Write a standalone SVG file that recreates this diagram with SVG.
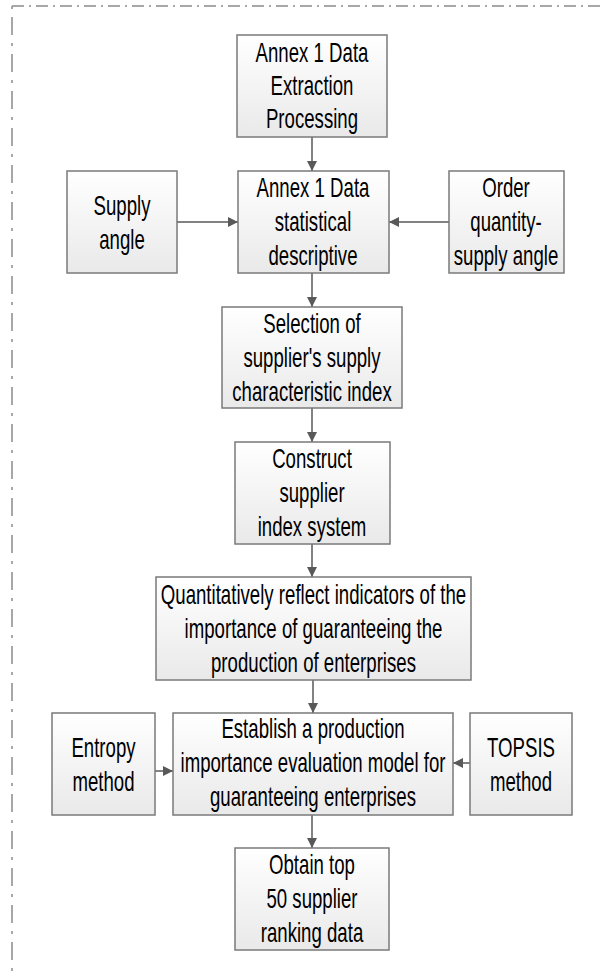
<svg xmlns="http://www.w3.org/2000/svg" width="601" height="975" viewBox="0 0 601 975">
<defs>
<linearGradient id="boxfill" x1="0" y1="0" x2="0" y2="1">
<stop offset="0" stop-color="#ffffff"/>
<stop offset="1" stop-color="#e9e9e9"/>
</linearGradient>
<marker id="arrow" markerUnits="userSpaceOnUse" markerWidth="11" markerHeight="10" refX="10" refY="5" orient="auto">
<path d="M0,0 L10,5 L0,10 z" fill="#595959"/>
</marker>
</defs>
<style>
.box{fill:url(#boxfill);stroke:#7a7a7a;stroke-width:1.5}
.lbl{font-family:"Liberation Sans",Arial,sans-serif;font-size:27px;fill:#000;text-anchor:middle}
.conn{stroke:#595959;stroke-width:1.5;fill:none;marker-end:url(#arrow)}
.border{stroke:#8a8a8a;stroke-width:1.5;fill:none}
</style>
<rect width="601" height="975" fill="#ffffff"/>
<g id="frame">
<path class="border" d="M12,6 H601" stroke-dasharray="12 5 2 5"/>
<path class="border" d="M12,6 V975" stroke-dasharray="3 8 18 8"/>
</g>
<g id="connectors">
<path class="conn" d="M312,137 V171"/>
<path class="conn" d="M177,222 H238"/>
<path class="conn" d="M449,222 H389"/>
<path class="conn" d="M312,273 V307"/>
<path class="conn" d="M312,408 V442"/>
<path class="conn" d="M312,544 V577"/>
<path class="conn" d="M313,680 V713"/>
<path class="conn" d="M155,771 H173"/>
<path class="conn" d="M470,763 H453"/>
<path class="conn" d="M312,815 V848"/>
</g>
<g id="n1">
<rect class="box" x="237" y="35" width="150" height="102"/>
<text class="lbl" transform="translate(312 0) scale(0.69 1)"><tspan x="0" y="62">Annex 1 Data</tspan><tspan x="0" y="95">Extraction</tspan><tspan x="0" y="128">Processing</tspan></text>
</g>
<g id="n2">
<rect class="box" x="238" y="171" width="151" height="102"/>
<text class="lbl" transform="translate(313 0) scale(0.69 1)"><tspan x="0" y="197">Annex 1 Data</tspan><tspan x="0" y="231">statistical</tspan><tspan x="0" y="265">descriptive</tspan></text>
</g>
<g id="n_supply">
<rect class="box" x="67" y="171" width="110" height="102"/>
<text class="lbl" transform="translate(122 0) scale(0.69 1)"><tspan x="0" y="215">Supply</tspan><tspan x="0" y="249">angle</tspan></text>
</g>
<g id="n_order">
<rect class="box" x="449" y="171" width="115" height="102"/>
<text class="lbl" transform="translate(506 0) scale(0.69 1)"><tspan x="0" y="197">Order</tspan><tspan x="0" y="231">quantity-</tspan><tspan x="0" y="265">supply angle</tspan></text>
</g>
<g id="n3">
<rect class="box" x="222" y="307" width="180" height="101"/>
<text class="lbl" transform="translate(312 0) scale(0.69 1)"><tspan x="0" y="333">Selection of</tspan><tspan x="0" y="367">supplier's supply</tspan><tspan x="0" y="401">characteristic index</tspan></text>
</g>
<g id="n4">
<rect class="box" x="235" y="442" width="155" height="102"/>
<text class="lbl" transform="translate(312 0) scale(0.69 1)"><tspan x="0" y="468">Construct</tspan><tspan x="0" y="502">supplier</tspan><tspan x="0" y="536">index system</tspan></text>
</g>
<g id="n5">
<rect class="box" x="156" y="577" width="315" height="103"/>
<text class="lbl" transform="translate(313.5 0) scale(0.69 1)"><tspan x="0" y="604">Quantitatively reflect indicators of the</tspan><tspan x="0" y="638">importance of guaranteeing the</tspan><tspan x="0" y="672">production of enterprises</tspan></text>
</g>
<g id="n_entropy">
<rect class="box" x="52" y="713" width="103" height="102"/>
<text class="lbl" transform="translate(103.5 0) scale(0.69 1)"><tspan x="0" y="757">Entropy</tspan><tspan x="0" y="791">method</tspan></text>
</g>
<g id="n6">
<rect class="box" x="173" y="713" width="280" height="102"/>
<text class="lbl" transform="translate(313 0) scale(0.69 1)"><tspan x="0" y="738">Establish a production</tspan><tspan x="0" y="772">importance evaluation model for</tspan><tspan x="0" y="806">guaranteeing enterprises</tspan></text>
</g>
<g id="n_topsis">
<rect class="box" x="470" y="713" width="102" height="102"/>
<text class="lbl" transform="translate(521 0) scale(0.69 1)"><tspan x="0" y="757">TOPSIS</tspan><tspan x="0" y="791">method</tspan></text>
</g>
<g id="n7">
<rect class="box" x="235" y="848" width="154" height="102"/>
<text class="lbl" transform="translate(312 0) scale(0.69 1)"><tspan x="0" y="874">Obtain top</tspan><tspan x="0" y="908">50 supplier</tspan><tspan x="0" y="942">ranking data</tspan></text>
</g>
</svg>
